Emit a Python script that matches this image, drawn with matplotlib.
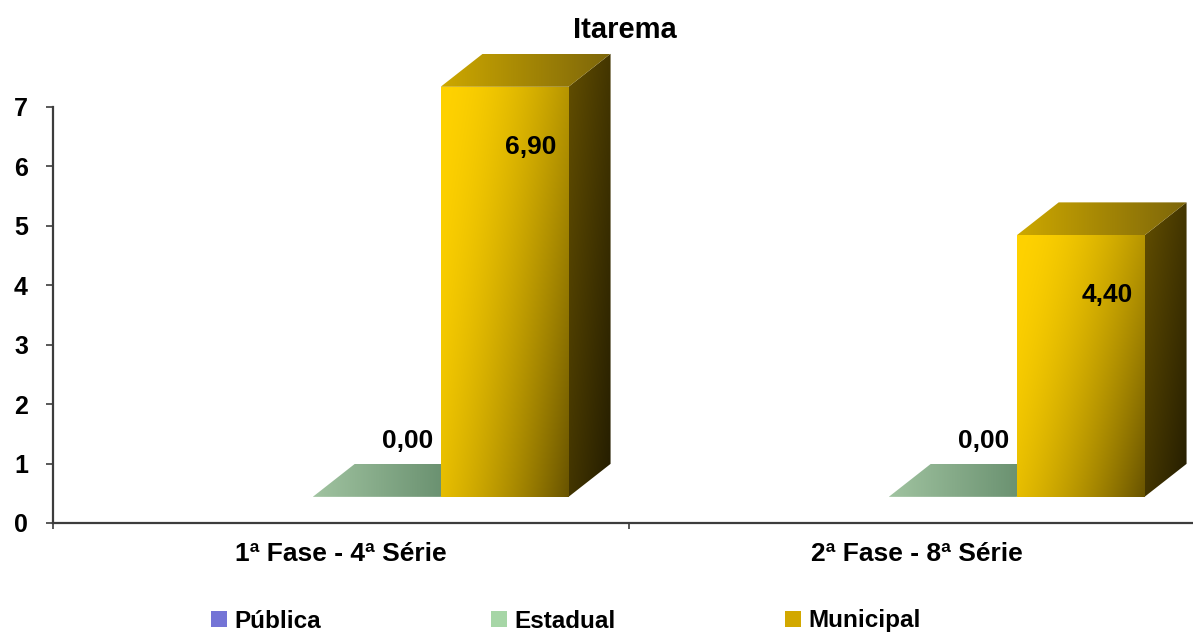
import numpy as np
import matplotlib
matplotlib.use("Agg")
import matplotlib.pyplot as plt
from matplotlib.patches import Polygon, Patch

plt.rcParams['font.family'] = ['Liberation Sans', 'DejaVu Sans']
plt.rcParams['font.weight'] = 'bold'

categories = ['1ª Fase - 4ª Série', '2ª Fase - 8ª Série']
series = ['Pública', 'Estadual', 'Municipal']
publica = [np.nan, np.nan]
estadual = [0.00, 0.00]
municipal = [6.90, 4.40]

legend_colors = ['#7474d6', '#a6d6a6', '#d2a800']

# 3d look: bars sit a bit behind the axis plane and have a depth offset
bar_w = 0.222
first_left = 0.229
floor = 0.44
depth_x, depth_y = 0.073, 0.555
ymax = 8.6

fig = plt.figure(figsize=(11.93, 6.34), dpi=100)
ax = fig.add_axes([53 / 1193, 111 / 634, 1152 / 1193, ymax * 59.43 / 634])
ax.set_xlim(0, 2)
ax.set_ylim(0, ymax)


def grad_fill(poly_pts, c0, c1, weights, z, power=1.0):
    poly = Polygon(poly_pts, closed=True, facecolor='none', edgecolor='none',
                   transform=ax.transData)
    ax.add_patch(poly)
    pts = np.array(poly_pts)
    x0, x1 = pts[:, 0].min(), pts[:, 0].max()
    y0, y1 = pts[:, 1].min(), pts[:, 1].max()
    u, v = np.meshgrid(np.linspace(0, 1, 80), np.linspace(0, 1, 80))
    t = np.clip(weights[0] * u + weights[1] * (1 - v), 0, 1) ** power
    c0 = np.array(c0) / 255.0
    c1 = np.array(c1) / 255.0
    img = c0[None, None, :] * (1 - t[..., None]) + c1[None, None, :] * t[..., None]
    im = ax.imshow(img, extent=[x0, x1, y0, y1], origin='lower', aspect='auto',
                   interpolation='bilinear', zorder=z)
    im.set_clip_path(poly)


def draw_boxes(values, k, front, side, top, z):
    lefts = [i + first_left + k * bar_w for i in range(len(values))]
    bars = ax.bar(lefts, values, width=bar_w, bottom=floor, align='edge',
                  color='none', linewidth=0)
    for rect, val in zip(bars, values):
        if np.isnan(val):
            continue
        x0, y0 = rect.get_x(), rect.get_y()
        w, h = rect.get_width(), rect.get_height()
        x1, y1 = x0 + w, y0 + h
        if h > 0:
            grad_fill([(x0, y0), (x1, y0), (x1, y1), (x0, y1)],
                      front[0], front[1], (0.65, 0.35), z, 1.7)
            grad_fill([(x1, y0), (x1 + depth_x, y0 + depth_y),
                       (x1 + depth_x, y1 + depth_y), (x1, y1)],
                      side[0], side[1], (0.5, 0.5), z)
        grad_fill([(x0, y1), (x1, y1), (x1 + depth_x, y1 + depth_y),
                   (x0 + depth_x, y1 + depth_y)],
                  top[0], top[1], (1.0, 0.0), z)
    return bars


green = [(160, 195, 160), (90, 130, 98)]
est_bars = draw_boxes(estadual, 1, green, green, green, 2)
mun_bars = draw_boxes(municipal, 2,
                      [(255, 210, 0), (105, 84, 0)],
                      [(98, 78, 0), (35, 28, 0)],
                      [(205, 168, 0), (125, 102, 10)], 3)

ax.set_xlim(0, 2)
ax.set_ylim(0, ymax)


def fmt(v):
    return f'{v:.2f}'.replace('.', ',')


for rect, val in zip(est_bars, estadual):
    ax.annotate(fmt(val), xy=(rect.get_x() + rect.get_width() / 2, floor + val),
                xytext=(22, 40), textcoords='offset points', ha='center',
                va='center', fontsize=19, zorder=10)
for rect, val in zip(mun_bars, municipal):
    ax.annotate(fmt(val), xy=(rect.get_x() + rect.get_width() / 2, floor + val),
                xytext=(19, -43), textcoords='offset points', ha='center',
                va='center', fontsize=19, zorder=10)

# axes styling
for s in ['top', 'right']:
    ax.spines[s].set_visible(False)
for s in ['left', 'bottom']:
    ax.spines[s].set_color('#3c3c3c')
    ax.spines[s].set_linewidth(1.6)
ax.spines['left'].set_bounds(0, 7)

ax.set_yticks(range(0, 8))
ax.tick_params(axis='y', length=5, width=1.2, color='#3c3c3c', pad=13,
               labelsize=18)
ax.set_xticks([0, 1, 2])
ax.set_xticklabels([])
ax.tick_params(axis='x', which='major', length=4.5, width=1.2, color='#3c3c3c')
ax.set_xticks([0.5, 1.5], minor=True)
ax.set_xticklabels(categories, minor=True)
ax.tick_params(axis='x', which='minor', length=0, pad=14, labelsize=19)
for lbl in ax.get_yticklabels() + ax.get_xticklabels(minor=True):
    lbl.set_fontweight('bold')

fig.text(625 / 1193, 1 - 30 / 634, 'Itarema', ha='center', va='center',
         fontsize=21, fontweight='bold')

handles = [Patch(facecolor=c, edgecolor='none') for c in legend_colors]
fig.legend(handles, series, loc='center', bbox_to_anchor=(566 / 1193, 1 - 621 / 634),
           ncol=3, frameon=False, fontsize=17.5, handlelength=0.65, handleheight=0.65,
           handletextpad=0.3, columnspacing=7.0)

fig.savefig('out.png', dpi=100)
